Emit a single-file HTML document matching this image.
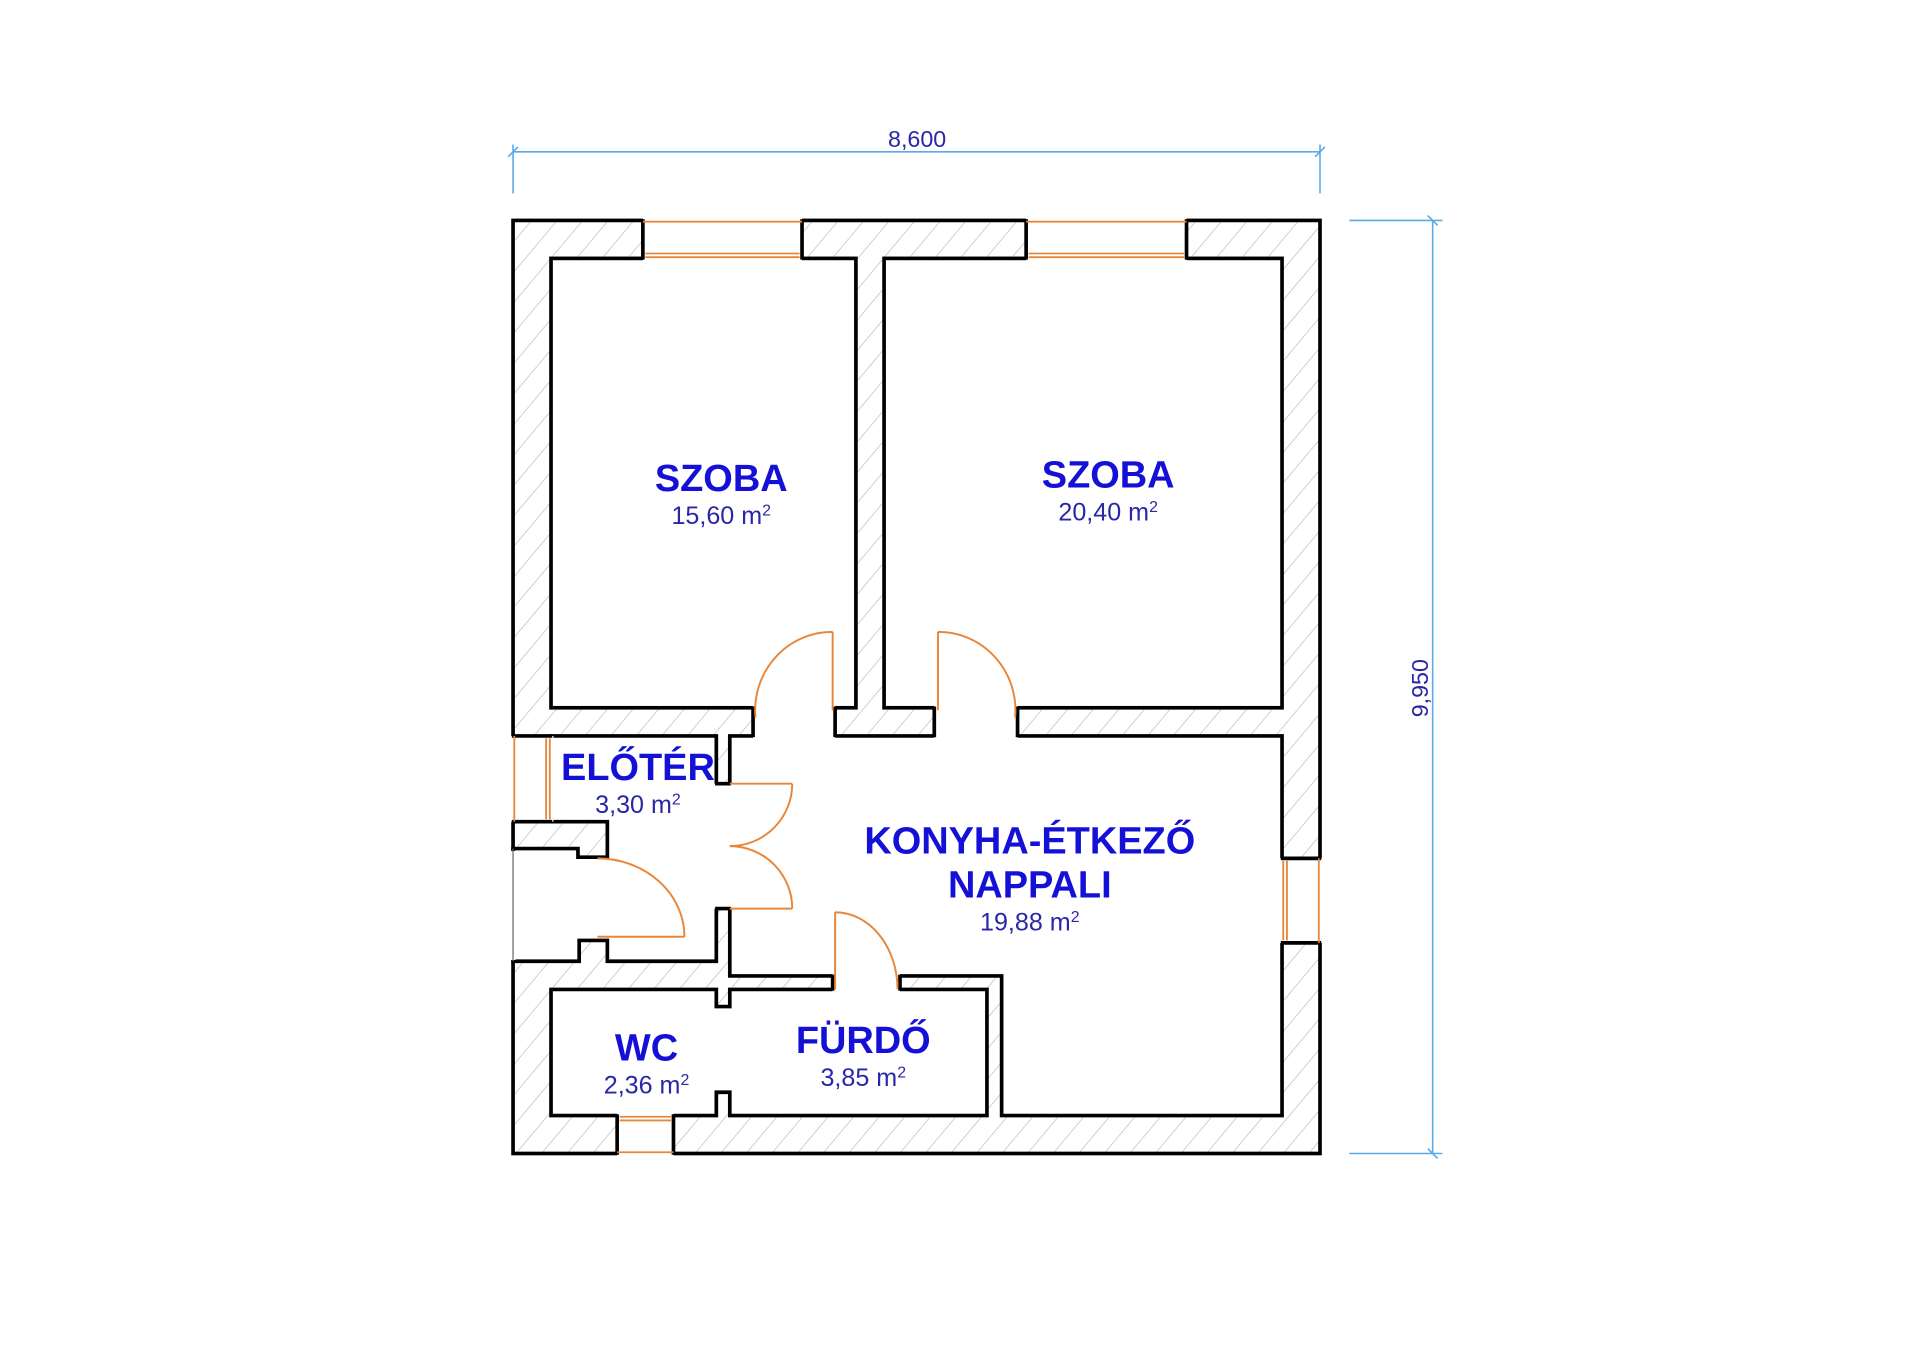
<!DOCTYPE html>
<html><head><meta charset="utf-8"><style>
html,body{margin:0;padding:0;background:#fff;}
svg{display:block;}
.lbl{font-family:"Liberation Sans",sans-serif;font-weight:bold;fill:#1410d6;text-anchor:middle;}
.area{font-family:"Liberation Sans",sans-serif;fill:#2a26a8;text-anchor:middle;}
</style></head><body>
<svg width="1920" height="1358" viewBox="0 0 1568 1109" xmlns="http://www.w3.org/2000/svg">
<defs>
<pattern id="h" patternUnits="userSpaceOnUse" width="16" height="16" patternTransform="rotate(40)">
<rect width="16" height="16" fill="#fff"/>
<line x1="0" y1="0" x2="0" y2="16" stroke="#b4b4b4" stroke-width="1"/>
</pattern>
</defs>
<rect width="1568" height="1109" fill="#fff"/>

<rect x="419" y="180" width="659" height="762" fill="url(#h)"/>
<rect x="419" y="180" width="659" height="762" fill="none" stroke="#000" stroke-width="3"/>

<g fill="#fff" stroke="#000" stroke-width="3" stroke-linejoin="miter">
<rect x="450" y="211" width="249" height="367"/>
<rect x="722" y="211" width="325" height="367"/>
<polygon points="596,601 1047,601 1047,911 818,911 818,797 596,797"/>
<polygon points="450,601 585,601 585,785 496,785 496,768 473,768 473,785 419,785 419,693 472,693 472,700 496,700 496,671 450,671"/>
<polygon points="450,808 585,808 585,822 596,822 596,808 806,808 806,911 596,911 596,892 585,892 585,911 450,911"/>
</g>

<g fill="#fff" stroke="none">
<rect x="615" y="576" width="67" height="28"/>
<rect x="763" y="576" width="68" height="28"/>
<rect x="582" y="640" width="17" height="102"/>
<rect x="680" y="794" width="55" height="17"/>
<rect x="525" y="177" width="130" height="36"/>
<rect x="838" y="177" width="131" height="36"/>
<rect x="1045" y="701" width="36" height="69"/>
<rect x="504" y="909" width="46" height="36"/>
<rect x="416" y="601" width="36" height="70"/>
<rect x="416" y="695" width="5" height="89"/>
</g>
<g stroke="#000" stroke-width="3">
<line x1="615" y1="577" x2="615" y2="602"/><line x1="682" y1="577" x2="682" y2="602"/>
<line x1="763" y1="577" x2="763" y2="602"/><line x1="831" y1="577" x2="831" y2="602"/>
<line x1="584" y1="640" x2="597" y2="640"/><line x1="584" y1="742" x2="597" y2="742"/>
<line x1="680" y1="796" x2="680" y2="809"/><line x1="735" y1="796" x2="735" y2="809"/>
<line x1="525" y1="179" x2="525" y2="212"/><line x1="655" y1="179" x2="655" y2="212"/>
<line x1="838" y1="179" x2="838" y2="212"/><line x1="969" y1="179" x2="969" y2="212"/>
<line x1="1046" y1="701" x2="1079" y2="701"/><line x1="1046" y1="770" x2="1079" y2="770"/>
<line x1="504" y1="910" x2="504" y2="943"/><line x1="550" y1="910" x2="550" y2="943"/>
<line x1="418" y1="601" x2="451" y2="601"/><line x1="418" y1="671" x2="451" y2="671"/>
</g>
<line x1="419" y1="693" x2="419" y2="785" stroke="#666" stroke-width="1"/>

<g stroke="#e8863a" stroke-width="1.5" fill="none">
<line x1="525" y1="181" x2="655" y2="181"/><line x1="527" y1="207" x2="653" y2="207"/><line x1="527" y1="210" x2="653" y2="210"/>
<line x1="838" y1="181" x2="969" y2="181"/><line x1="840" y1="207" x2="967" y2="207"/><line x1="840" y1="210" x2="967" y2="210"/>
<line x1="1077" y1="701" x2="1077" y2="770"/><line x1="1048" y1="703" x2="1048" y2="768"/><line x1="1051" y1="703" x2="1051" y2="768"/>
<line x1="504" y1="941" x2="550" y2="941"/><line x1="506" y1="912" x2="548" y2="912"/><line x1="506" y1="915" x2="548" y2="915"/>
<line x1="420" y1="601" x2="420" y2="671"/><line x1="446" y1="603" x2="446" y2="669"/><line x1="449" y1="603" x2="449" y2="669"/>
</g>

<g stroke="#e8863a" stroke-width="1.6" fill="none">
<line x1="680" y1="516" x2="680" y2="580"/>
<path d="M680,516 A63,64 0 0 0 617,586"/>
<line x1="766" y1="516" x2="766" y2="580"/>
<path d="M766,516 A63,64 0 0 1 829,586"/>
<line x1="596" y1="640" x2="647" y2="640"/>
<path d="M647,640 A51,51 0 0 1 596,691"/>
<line x1="596" y1="742" x2="647" y2="742"/>
<path d="M647,742 A51,51 0 0 0 596,691"/>
<line x1="488" y1="765" x2="559" y2="765"/>
<path d="M488,701 A71,64 0 0 1 559,765"/>
<line x1="682" y1="745" x2="682" y2="808"/>
<path d="M682,745 A51,63 0 0 1 733,808"/>
</g>

<g stroke="#5aaae8" stroke-width="1.3">
<line x1="419" y1="124" x2="1078" y2="124"/>
<line x1="419" y1="118" x2="419" y2="158"/>
<line x1="1078" y1="118" x2="1078" y2="158"/>
<line x1="415" y1="128" x2="423" y2="120"/><line x1="1074" y1="128" x2="1082" y2="120"/>
<line x1="1170" y1="180" x2="1170" y2="942"/>
<line x1="1102" y1="180" x2="1178" y2="180"/>
<line x1="1102" y1="942" x2="1178" y2="942"/>
<line x1="1166" y1="176" x2="1174" y2="184"/><line x1="1166" y1="938" x2="1174" y2="946"/>
</g>
<text x="749" y="120" class="area" font-size="19">8,600</text>
<text x="0" y="0" class="area" font-size="19" transform="translate(1166,562) rotate(-90)">9,950</text>

<text x="589" y="401" class="lbl" font-size="31">SZOBA</text>
<text x="589" y="428" class="area" font-size="20.5">15,60 m<tspan font-size="13" dy="-7">2</tspan></text>
<text x="905" y="398" class="lbl" font-size="31">SZOBA</text>
<text x="905" y="425" class="area" font-size="20.5">20,40 m<tspan font-size="13" dy="-7">2</tspan></text>
<text x="521" y="637" class="lbl" font-size="31">ELŐTÉR</text>
<text x="521" y="664" class="area" font-size="20.5">3,30 m<tspan font-size="13" dy="-7">2</tspan></text>
<text x="841" y="697" class="lbl" font-size="31">KONYHA-ÉTKEZŐ</text>
<text x="841" y="733" class="lbl" font-size="31">NAPPALI</text>
<text x="841" y="760" class="area" font-size="20.5">19,88 m<tspan font-size="13" dy="-7">2</tspan></text>
<text x="528" y="866" class="lbl" font-size="31">WC</text>
<text x="528" y="893" class="area" font-size="20.5">2,36 m<tspan font-size="13" dy="-7">2</tspan></text>
<text x="705" y="860" class="lbl" font-size="31">FÜRDŐ</text>
<text x="705" y="887" class="area" font-size="20.5">3,85 m<tspan font-size="13" dy="-7">2</tspan></text>
</svg>
</body></html>
